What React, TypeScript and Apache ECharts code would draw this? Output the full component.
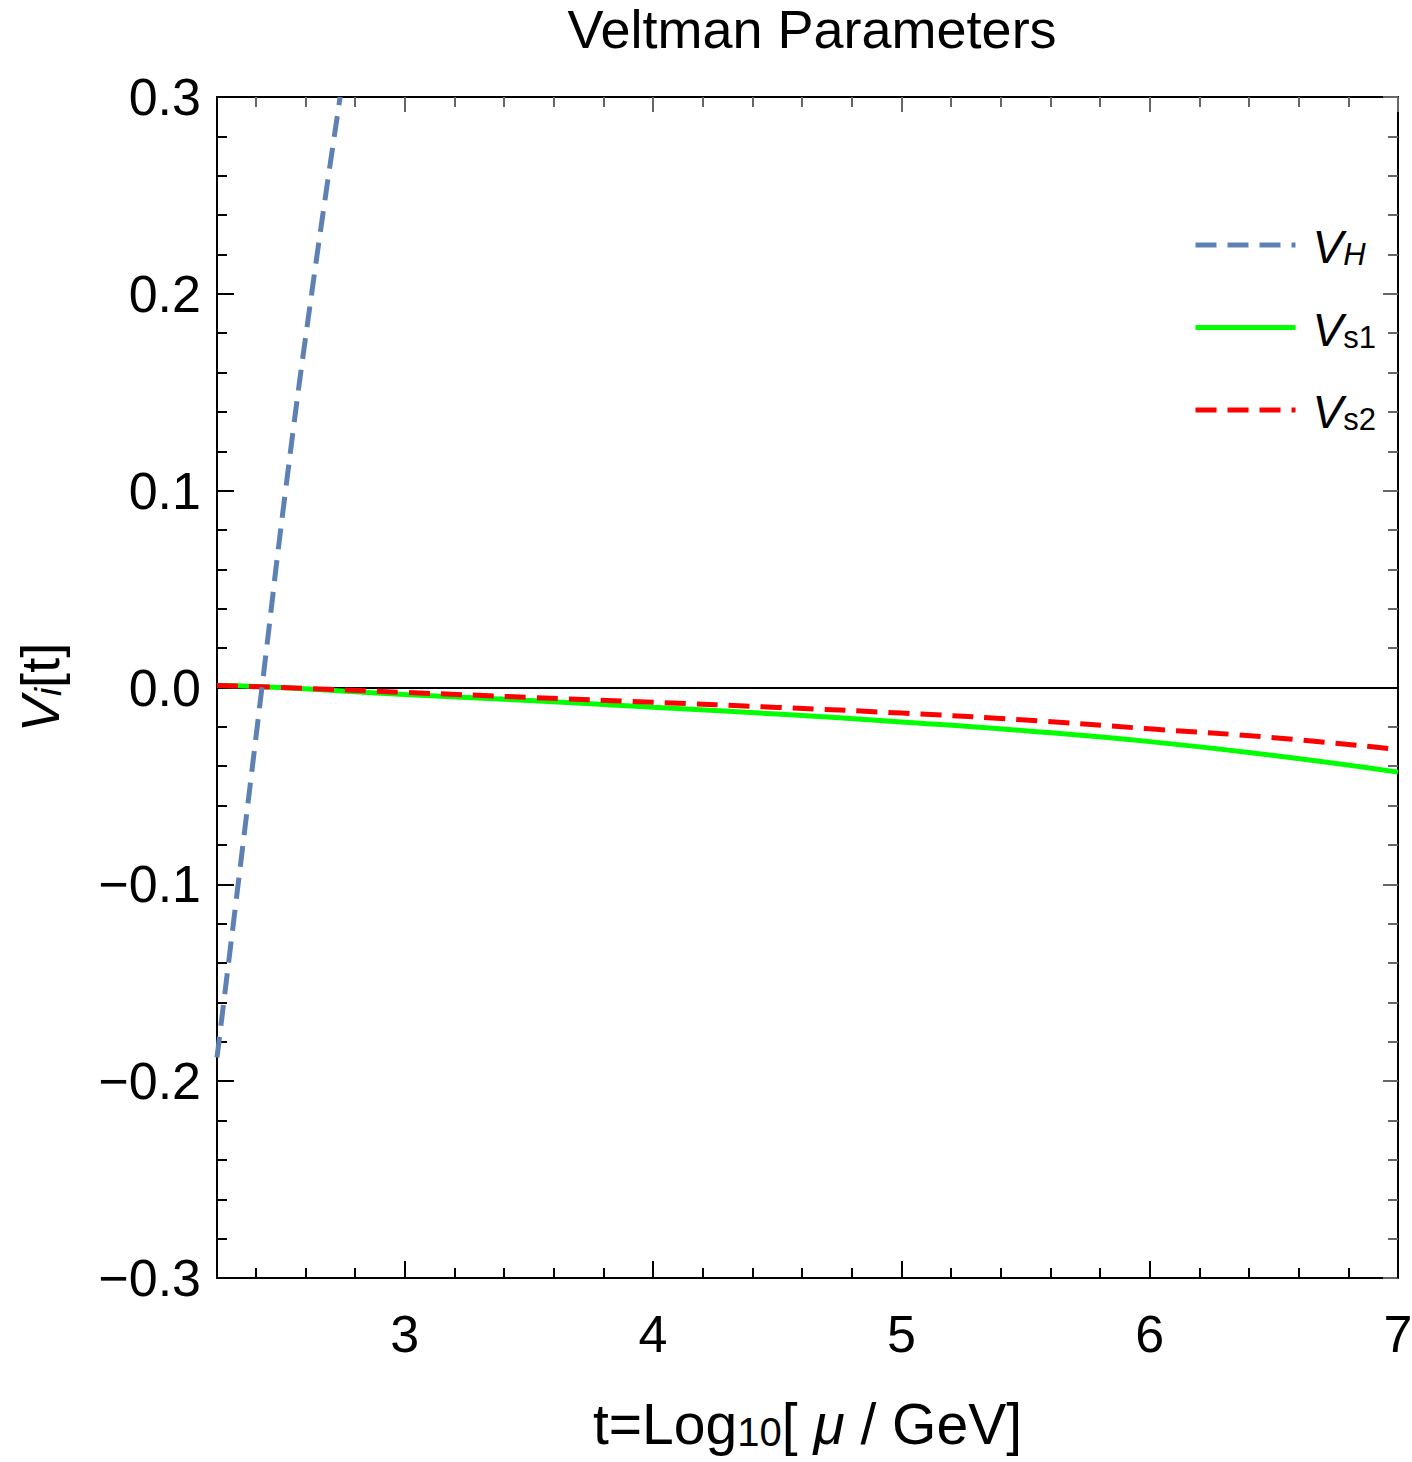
import React, { useEffect, useRef } from "react";
import * as echarts from "echarts";

// ---- data ----
const tVH = [2.244, 2.33, 2.425, 2.52, 2.625, 2.74];
const vVH = [-0.188, -0.099, 0.0, 0.1, 0.2, 0.3];

const tS = [2.244, 2.5, 3, 3.5, 4, 4.5, 5, 5.5, 6, 6.5, 7];
const vS1 = [0.001, 0.0, -0.0036, -0.0066, -0.01, -0.0135, -0.0175, -0.022, -0.0275, -0.0345, -0.043];
const vS2 = [0.001, 0.0, -0.0025, -0.005, -0.0075, -0.0101, -0.013, -0.0165, -0.021, -0.0255, -0.0315];

const xMajorTicks = [3, 4, 5, 6, 7];
const xMinorTicks = [2.4, 2.6, 2.8, 3.2, 3.4, 3.6, 3.8, 4.2, 4.4, 4.6, 4.8, 5.2, 5.4, 5.6, 5.8, 6.2, 6.4, 6.6, 6.8];

const X_MIN = 2.244;
const X_MAX = 7;
const Y_MIN = -0.3;
const Y_MAX = 0.3;

const FONT = "Liberation Sans";

const zip = (xs: number[], ys: number[]) => xs.map((x, i) => [x, ys[i]]);

export default function App() {
  const ref = useRef<HTMLDivElement>(null);
  useEffect(() => {
    if (!ref.current) return;
    const chart = echarts.init(ref.current, null, { renderer: "svg" });

    const baseX = {
      type: "value",
      min: X_MIN,
      max: X_MAX,
      splitLine: { show: false },
    };

    const option: any = {
      animation: false,
      backgroundColor: "#fff",
      title: {
        text: "Veltman Parameters",
        left: 807,
        top: 0,
        padding: [2, 5, 5, 5],
        textAlign: "center",
        textStyle: { fontFamily: FONT, fontSize: 54, fontWeight: "normal", color: "#000", lineHeight: 54 },
      },
      grid: { left: 217, right: 14, top: 97, bottom: 184, containLabel: false, outerBoundsMode: "none" },
      xAxis: [
        {
          ...baseX,
          position: "bottom",
          name: "{a|t=Log}{s|10}{a|[ }{m|μ}{a| / GeV]}",
          nameLocation: "middle",
          nameGap: 116,
          nameTextStyle: {
            fontFamily: FONT,
            color: "#000",
            rich: {
              a: { fontFamily: FONT, fontSize: 57, color: "#000", verticalAlign: "bottom", lineHeight: 58 },
              m: { fontFamily: FONT, fontSize: 57, fontStyle: "italic", color: "#000", verticalAlign: "bottom", lineHeight: 58 },
              s: { fontFamily: FONT, fontSize: 40, color: "#000", verticalAlign: "bottom", lineHeight: 36, padding: [20, 0, 0, 0] },
            },
          },
          axisLine: { show: true, onZero: false, lineStyle: { color: "#000", width: 2 } },
          axisTick: { show: true, inside: true, length: 17, customValues: xMajorTicks, lineStyle: { color: "#000", width: 2 } },
          axisLabel: {
            show: true,
            customValues: xMajorTicks,
            margin: 30,
            fontFamily: FONT,
            fontSize: 52,
            color: "#000",
            formatter: (v: number) => String(v),
          },
        },
        {
          ...baseX,
          position: "bottom",
          axisLine: { show: false, onZero: false },
          axisTick: { show: true, inside: true, length: 10, customValues: xMinorTicks, lineStyle: { color: "#000", width: 2 } },
          axisLabel: { show: false },
        },
        {
          ...baseX,
          position: "top",
          axisLine: { show: true, onZero: false, lineStyle: { color: "#000", width: 2 } },
          axisTick: { show: true, inside: true, length: 15, customValues: xMajorTicks, lineStyle: { color: "#666", width: 2 } },
          axisLabel: { show: false },
        },
        {
          ...baseX,
          position: "top",
          axisLine: { show: false, onZero: false },
          axisTick: { show: true, inside: true, length: 10, customValues: xMinorTicks, lineStyle: { color: "#666", width: 2 } },
          axisLabel: { show: false },
        },
      ],
      yAxis: [
        {
          type: "value",
          position: "left",
          min: Y_MIN,
          max: Y_MAX,
          interval: 0.1,
          splitLine: { show: false },
          name: "{v|V}{i|i}{n|[t]}",
          nameLocation: "middle",
          nameRotate: 90,
          nameGap: 150,
          nameTextStyle: {
            fontFamily: FONT,
            color: "#000",
            rich: {
              v: { fontFamily: FONT, fontSize: 54, fontStyle: "italic", color: "#000", verticalAlign: "bottom", lineHeight: 46 },
              i: { fontFamily: FONT, fontSize: 37, fontStyle: "italic", color: "#000", verticalAlign: "bottom", lineHeight: 30, padding: [14, 0, 0, 0] },
              n: { fontFamily: FONT, fontSize: 54, color: "#000", verticalAlign: "bottom", lineHeight: 46 },
            },
          },
          axisLine: { show: true, onZero: false, lineStyle: { color: "#000", width: 2 } },
          axisTick: { show: true, inside: true, length: 17, lineStyle: { color: "#000", width: 2 } },
          minorTick: { show: true, splitNumber: 5, length: 10, lineStyle: { color: "#000", width: 2 } },
          minorSplitLine: { show: false },
          axisLabel: {
            show: true,
            margin: 16,
            fontFamily: FONT,
            fontSize: 52,
            color: "#000",
            formatter: (v: number) => {
              const r = Math.round(v * 10) / 10;
              const s = Math.abs(r).toFixed(1);
              return r < 0 ? "\u2212" + s : s;
            },
          },
        },
        {
          type: "value",
          position: "right",
          min: Y_MIN,
          max: Y_MAX,
          interval: 0.1,
          splitLine: { show: false },
          axisLine: { show: true, onZero: false, lineStyle: { color: "#000", width: 2 } },
          axisTick: { show: true, inside: true, length: 15, lineStyle: { color: "#666", width: 2 } },
          minorTick: { show: true, splitNumber: 5, length: 10, lineStyle: { color: "#666", width: 2 } },
          minorSplitLine: { show: false },
          axisLabel: { show: false },
        },
      ],
      legend: {
        orient: "vertical",
        left: 1188,
        top: 219,
        itemWidth: 100,
        itemHeight: 20,
        itemGap: 36.5,
        data: ["VH", "Vs1", "Vs2"],
        itemStyle: { opacity: 0, borderWidth: 0 },
        lineStyle: { width: 5 },
        formatter: (name: string) => {
          if (name === "VH") return "{v|V}{si|H}";
          if (name === "Vs1") return "{v|V}{s|s1}";
          return "{v|V}{s|s2}";
        },
        textStyle: {
          fontFamily: FONT,
          color: "#000",
          padding: [0, 0, 0, 12],
          rich: {
            v: { fontFamily: FONT, fontSize: 46, fontStyle: "italic", color: "#000", verticalAlign: "bottom", lineHeight: 50 },
            si: { fontFamily: FONT, fontSize: 31, fontStyle: "italic", color: "#000", verticalAlign: "bottom", lineHeight: 36, padding: [12, 0, 0, 0] },
            s: { fontFamily: FONT, fontSize: 31, color: "#000", verticalAlign: "bottom", lineHeight: 36, padding: [12, 0, 0, 0] },
          },
        },
      },
      series: [
        {
          name: "Vs1",
          type: "line",
          xAxisIndex: 0,
          yAxisIndex: 0,
          data: zip(tS, vS1),
          smooth: true,
          symbol: "none",
          showSymbol: false,
          lineStyle: { color: "#00ff00", width: 5, type: "solid" },
          itemStyle: { color: "#00ff00" },
          markLine: {
            silent: true,
            symbol: ["none", "none"],
            label: { show: false },
            lineStyle: { color: "#000", width: 2, type: "solid" },
            data: [{ yAxis: 0 }],
            z: 1,
          },
          z: 3,
        },
        {
          name: "Vs2",
          type: "line",
          xAxisIndex: 0,
          yAxisIndex: 0,
          data: zip(tS, vS2),
          smooth: true,
          symbol: "none",
          showSymbol: false,
          lineStyle: { color: "#ff0000", width: 5, type: [21, 11] },
          itemStyle: { color: "#ff0000" },
          z: 4,
        },
        {
          name: "VH",
          type: "line",
          xAxisIndex: 0,
          yAxisIndex: 0,
          data: zip(tVH, vVH),
          smooth: true,
          symbol: "none",
          showSymbol: false,
          lineStyle: { color: "#5e81b5", width: 5, type: [21, 11] },
          itemStyle: { color: "#5e81b5" },
          z: 5,
        },
      ],
    };

    chart.setOption(option);
    return () => chart.dispose();
  }, []);

  return (
    <div
      ref={ref}
      style={{ position: "fixed", left: 0, top: 0, width: 1412, height: 1462, background: "#fff" }}
    />
  );
}
